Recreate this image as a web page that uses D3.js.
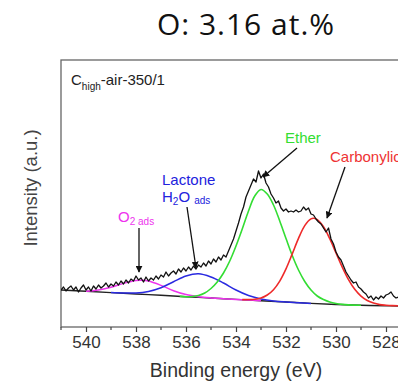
<!DOCTYPE html>
<html>
<head>
<meta charset="utf-8">
<script src="https://cdn.jsdelivr.net/npm/d3@7"></script>
<style>
  body { margin: 0; background: white; }
  text { font-family: 'Liberation Sans', Arial, sans-serif; }
</style>
</head>
<body>
<svg id="canvas" width="398" height="381"></svg>
<script>
// ************************************************************************************** //
// Data (binding energy in eV, intensity in a.u.)

var title_text = 'O: 3.16 at.%';
var sample_name = ['C', 'high', '-air-350/1'];

var spectrum_start = 541.0;
var spectrum_step = 0.1;
var spectrum = [
  37,40,36,39,41,37,40,35,39,42, 37,40,36,41,38,42,39,41,44,40,
  43,41,45,42,46,43,47,44,48,46, 51,47,49,45,50,46,49,47,51,48,
  52,50,55,51,54,56,53,58,55,59, 56,60,57,61,58,62,60,64,61,66,
  63,68,65,70,67,72,70,76,82,88, 96,104,113,120,130,136,142,148,145,156,
  149,153,144,140,133,129,124,126,119,116, 118,115,116,115,117,115,116,120,117,119,
  113,112,108,105,103,99,95,99,88,83, 75,70,67,61,55,51,47,44,45,40,
  38,35,33,29,31,27,30,28,31,29, 32,33,35,31,29,30
];

var background = [[541,37],[540,35.7],[539,34.4],[538,33],[537,31.7],[536,30.3],[535,29],[534,27.6],
  [533,26.3],[532,25],[531,23.6],[530,22.5],[529,21.7],[528,21.2],[527.5,21]];

var peak_o2 = [[540,35.8],[539.5,37.1],[539,39.7],[538.5,43.6],[538,46.5],[537.75,46.7],[537.5,45.9],
  [537,41.6],[536.5,36.3],[536,32.4],[535.5,30.3],[535,29.1],[534.5,28.3],[534,27.6],[533.5,27],[533,26.3]];

var peak_lactone = [[539,34.4],[538.5,34],[538,34],[537.5,35.6],[537,39.3],[536.5,45.3],[536,51],
  [535.5,53.2],[535,50],[534.5,44],[534,37],[533.5,31.5],[533,28],[532.5,26],[532,25],[531.5,24.3],[531,23.6]];

var peak_ether = [[536.25,30.6],[536,30.3],[535.75,30.5],[535.5,31.5],[535.25,34],[535,38.5],[534.75,45],
  [534.5,54],[534.25,66],[534,81],[533.75,98],[533.5,116],[533.25,131],[533,137.5],[532.75,133],
  [532.5,122],[532.25,106],[532,88.5],[531.75,71.5],[531.5,57],[531.25,45.5],[531,37],[530.75,31],
  [530.5,27.5],[530.25,25],[530,23.5],[529.75,22.6],[529.5,22.1],[529,21.7]];

var peak_carbonyl = [[533.75,27.4],[533.5,27.5],[533.25,27.8],[533,29.1],[532.75,32],[532.5,37.3],
  [532.25,45.9],[532,58.1],[531.75,73.1],[531.5,88.6],[531.25,101.4],[531,108.1],[530.9,108.7],
  [530.75,107.3],[530.5,100.2],[530.25,88.3],[530,74.1],[529.75,59.9],[529.5,47.4],[529.25,37.7],
  [529,30.9],[528.75,26.5],[528.5,23.9],[528.25,22.4],[528,21.8],[527.75,21.4],[527.5,21.2]];

var major_ticks = [540, 538, 536, 534, 532, 530, 528];
var minor_ticks = [541, 539, 537, 535, 533, 531, 529];

// ************************************************************************************** //
// Setup

var svg = d3.select('#canvas');
var plot = { left: 61, top: 60, right: 400, bottom: 327 };

var x = d3.scaleLinear().domain([540, 528]).range([86, 386]);
var y = d3.scaleLinear().domain([0, 267]).range([plot.bottom, plot.top]);

svg.append('defs').append('clipPath').attr('id', 'clip')
  .append('rect').attr('x', plot.left).attr('y', plot.top)
  .attr('width', plot.right - plot.left).attr('height', plot.bottom - plot.top);

svg.select('defs').append('marker')
  .attr('id', 'arrow').attr('viewBox', '0 0 10 10').attr('refX', 9).attr('refY', 5)
  .attr('markerWidth', 7).attr('markerHeight', 7).attr('orient', 'auto-start-reverse')
  .attr('markerUnits', 'userSpaceOnUse')
  .append('path').attr('d', 'M0,0 L10,5 L0,10 z').attr('fill', '#111');

// ************************************************************************************** //
// Title and axes

svg.append('text').attr('x', 246).attr('y', 35).attr('text-anchor', 'middle')
  .style('font-family', "'Open Sans', sans-serif").style('font-size', '30px')
  .style('letter-spacing', '1px').style('fill', '#111')
  .text(title_text);

svg.append('rect').attr('x', plot.left).attr('y', plot.top)
  .attr('width', plot.right - plot.left).attr('height', plot.bottom - plot.top)
  .style('fill', 'none').style('stroke', '#666').style('stroke-width', 1.3);

var xAxis = d3.axisBottom(x).tickValues(major_ticks).tickSize(5).tickPadding(4).tickFormat(d3.format('d'));
var xg = svg.append('g').attr('transform', 'translate(0,' + plot.bottom + ')').call(xAxis);
xg.select('.domain').remove();
xg.selectAll('line').style('stroke', '#444').style('stroke-width', 1.2);
xg.selectAll('text').style('font-family', "'Liberation Sans', Arial, sans-serif")
  .style('font-size', '17px').style('fill', '#333');

svg.append('g').selectAll('line').data(minor_ticks).join('line')
  .attr('x1', d => x(d)).attr('x2', d => x(d))
  .attr('y1', plot.bottom).attr('y2', plot.bottom + 3)
  .style('stroke', '#444').style('stroke-width', 1.2);

svg.append('text').attr('x', 236).attr('y', 377).attr('text-anchor', 'middle')
  .style('font-size', '19.5px').style('fill', '#333').text('Binding energy (eV)');

svg.append('text').attr('transform', 'translate(37,188) rotate(-90)').attr('text-anchor', 'middle')
  .style('font-size', '18.5px').style('fill', '#444').text('Intensity (a.u.)');

// ************************************************************************************** //
// Curves

var line = d3.line().x(d => x(d[0])).y(d => y(d[1])).curve(d3.curveCatmullRom.alpha(0.5));
var g = svg.append('g').attr('clip-path', 'url(#clip)');

function drawCurve(data, color, width){
  g.append('path').datum(data).attr('d', line)
    .style('fill', 'none').style('stroke', color).style('stroke-width', width);
}

var spectrum_points = spectrum.map((v, i) => [spectrum_start - i*spectrum_step, v]);

drawCurve(background, '#222', 1.4);
drawCurve(peak_o2, '#ee33ee', 1.5);
drawCurve(peak_lactone, '#2a2ae0', 1.5);
drawCurve(peak_ether, '#33dd33', 1.6);
drawCurve(peak_carbonyl, '#ee2a2a', 1.6);
g.append('path').datum(spectrum_points).attr('d', d3.line().x(d => x(d[0])).y(d => y(d[1])))
  .style('fill', 'none').style('stroke', '#111').style('stroke-width', 1.3).style('stroke-linejoin', 'round');

// ************************************************************************************** //
// Annotations

var sample = svg.append('text').attr('x', 71).attr('y', 85).style('font-size', '15px').style('fill', '#222');
sample.append('tspan').text(sample_name[0]);
sample.append('tspan').attr('dy', 5).style('font-size', '10px').text(sample_name[1]);
sample.append('tspan').attr('dy', -5).text(sample_name[2]);

function arrow(x1, y1, x2, y2){
  svg.append('line').attr('x1', x1).attr('y1', y1).attr('x2', x2).attr('y2', y2)
    .style('stroke', '#111').style('stroke-width', 1.3).attr('marker-end', 'url(#arrow)');
}

svg.append('text').attr('x', 285).attr('y', 143).style('font-size', '15px').style('fill', '#33dd33').text('Ether');
arrow(297, 148, 263, 177);

svg.append('text').attr('x', 330).attr('y', 162).style('font-size', '15px').style('fill', '#ee3333').text('Carbonylic');
arrow(345, 167, 327, 218);

svg.append('text').attr('x', 162).attr('y', 185).style('font-size', '15px').style('fill', '#2222dd').text('Lactone');
var h2o = svg.append('text').attr('x', 162).attr('y', 202).style('font-size', '15px').style('fill', '#2222dd');
h2o.append('tspan').text('H');
h2o.append('tspan').attr('dy', 3).style('font-size', '10px').text('2');
h2o.append('tspan').attr('dy', -3).text('O ');
h2o.append('tspan').attr('dy', 2).style('font-size', '10px').text('ads');
arrow(187, 207, 196, 268);

var o2 = svg.append('text').attr('x', 118).attr('y', 222).style('font-size', '15px').style('fill', '#ee33ee');
o2.append('tspan').text('O');
o2.append('tspan').attr('dy', 3).style('font-size', '10px').text('2 ads');
arrow(139, 228, 139, 272);
</script>
</body>
</html>
